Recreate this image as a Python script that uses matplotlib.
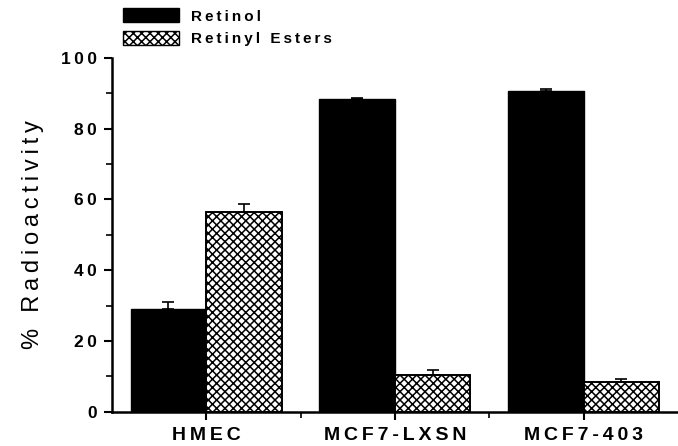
import numpy as np
import matplotlib.pyplot as plt
from matplotlib.patches import Patch

groups = ["HMEC", "MCF7-LXSN", "MCF7-403"]
retinol = [29.0, 88.5, 90.7]
retinol_err = [2.0, 0.3, 0.5]
esters = [56.5, 10.5, 8.5]
esters_err = [2.3, 1.4, 0.6]

plt.rcParams['font.family'] = ['Liberation Sans', 'DejaVu Sans']
plt.rcParams['hatch.linewidth'] = 1.1


def spaced(s):
    return "\u2009".join(s)


fig = plt.figure(figsize=(6.78, 4.46), dpi=100)
ax = fig.add_axes([0.165, 0.077, 0.835, 0.793])

x = np.arange(len(groups))
w = 0.4
ax.bar(x - w / 2, retinol, w, color='black', edgecolor='black',
       yerr=[np.zeros(3), retinol_err], capsize=4,
       error_kw=dict(ecolor='black', elinewidth=1.2, capthick=1.2))
ax.bar(x + w / 2, esters, w, color='white', edgecolor='black', hatch='xxxx',
       linewidth=1.4,
       yerr=[np.zeros(3), esters_err], capsize=4,
       error_kw=dict(ecolor='black', elinewidth=1.2, capthick=1.2))

ax.set_xlim(-0.5, 2.5)
ax.set_ylim(0, 100)
ax.set_xticks(x)
ax.set_xticks([0.5, 1.5], minor=True)
ax.set_xticklabels([spaced(g) for g in groups], fontsize=14, fontweight='bold')
ax.set_yticks(range(0, 101, 20))
ax.set_yticks(range(10, 100, 20), minor=True)
ax.set_yticklabels([spaced(str(v)) for v in range(0, 101, 20)], fontsize=12.5,
                   fontweight='bold')
ax.tick_params(axis='both', which='major', direction='out', length=6, width=1.5)
ax.tick_params(axis='both', which='minor', direction='out', length=4, width=1.2)
ax.tick_params(axis='x', pad=5)
ax.tick_params(axis='y', pad=5)

for side in ['top', 'right']:
    ax.spines[side].set_visible(False)
for side in ['left', 'bottom']:
    ax.spines[side].set_linewidth(1.8)

ax.set_ylabel(spaced("% Radioactivity"), fontsize=17, labelpad=12)

handles = [Patch(facecolor='black', edgecolor='black'),
           Patch(facecolor='white', edgecolor='black', hatch='xxxx')]
fig.legend(handles, [spaced("Retinol"), spaced("Retinyl Esters")],
           loc='upper left', bbox_to_anchor=(0.165, 1.005), frameon=False,
           prop=dict(size=11, weight='bold'), handlelength=3.7,
           handleheight=1.0, labelspacing=0.5, handletextpad=0.8,
           borderpad=0.2)

fig.savefig("out.png", dpi=100)
